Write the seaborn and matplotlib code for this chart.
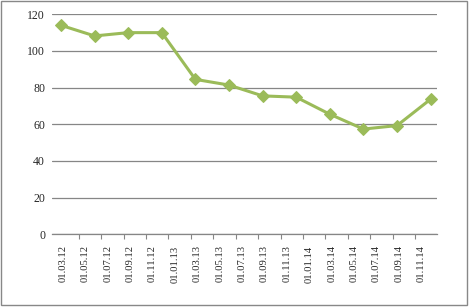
import matplotlib
matplotlib.use("Agg")
import matplotlib.pyplot as plt
import seaborn as sns
import pandas as pd
from matplotlib.patches import Rectangle

# Data (quarterly observations, months since 01.03.12)
months = [0, 3, 6, 9, 12, 15, 18, 21, 24, 27, 30, 33]
values = [114.0, 108.2, 110.0, 110.0, 84.5, 81.4, 75.5, 74.8, 65.5, 57.4, 59.3, 73.7]
tick_labels = ["01.03.12", "01.05.12", "01.07.12", "01.09.12", "01.11.12", "01.01.13",
               "01.03.13", "01.05.13", "01.07.13", "01.09.13", "01.11.13", "01.01.14",
               "01.03.14", "01.05.14", "01.07.14", "01.09.14", "01.11.14"]
label_months = [2 * i for i in range(len(tick_labels))]
y_ticks = [0, 20, 40, 60, 80, 100, 120]

df = pd.DataFrame({"month": months, "value": values})

sns.set_theme(style="white")
plt.rcParams["font.family"] = ["Liberation Serif", "DejaVu Serif"]

W, H = 469, 307
fig = plt.figure(figsize=(W / 100, H / 100), dpi=100)
ax = fig.add_axes([52 / W, 1 - 234.3 / H, (437 - 52) / W, (234.3 - 14.3) / H])

grid_color = "#868686"
line_color = "#9BBB59"

sns.lineplot(data=df, x="month", y="value", ax=ax, color=line_color, linewidth=2.2,
             marker="D", markersize=6.5, markeredgecolor=line_color,
             markerfacecolor=line_color)

ax.set_ylim(0, 120)
ax.set_xlim(-0.8, 33.57)
ax.set_yticks(y_ticks)
ax.set_yticklabels([str(v) for v in y_ticks], fontsize=8.5)
ax.yaxis.grid(True, color=grid_color, linewidth=0.9)
ax.set_axisbelow(True)

ax.set_xticks([m + 0.18 for m in label_months])
ax.set_xticklabels(tick_labels, rotation=90, fontsize=7.6, va="top", ha="center")
ax.set_xticks([1.6 + 2 * k for k in range(16)], minor=True)
ax.tick_params(axis="x", which="major", length=0, pad=8)
ax.tick_params(axis="x", which="minor", length=3.5, width=0.8, color=grid_color,
               direction="out", bottom=True)
ax.tick_params(axis="y", length=0, pad=5)

for s in ["top", "right", "left"]:
    ax.spines[s].set_visible(False)
ax.spines["bottom"].set_color(grid_color)
ax.spines["bottom"].set_linewidth(0.9)

ax.set_xlabel("")
ax.set_ylabel("")

fig.patches.append(Rectangle((0.5 / W, 1 - 305 / H), 466.5 / W, 304.5 / H,
                             transform=fig.transFigure, fill=False,
                             edgecolor="#888888", linewidth=1.0))

fig.savefig("out.png", dpi=100)
